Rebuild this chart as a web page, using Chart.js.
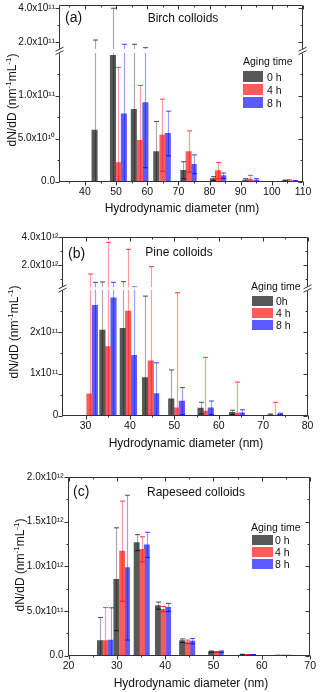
<!DOCTYPE html>
<html><head><meta charset="utf-8">
<script src="https://cdn.jsdelivr.net/npm/chart.js@4.4.1/dist/chart.umd.min.js"></script>
<style>
html,body{margin:0;padding:0;background:#fff;}
#wrap{position:relative;width:320px;height:692px;overflow:hidden;font-family:"Liberation Sans",Arial,sans-serif;color:#111;background:#fff;}
canvas{position:absolute;left:0;}
.t{position:absolute;white-space:nowrap;line-height:1;}
.c{transform:translate(-50%,-50%);}
.l{transform:translateY(-50%);}
.r{transform:translate(-50%,-50%) rotate(-90deg);}
.box{position:absolute;}
sup{font-size:8px;vertical-align:5px;line-height:0;}
</style></head><body>
<div id="wrap">
  <canvas id="aL" width="320" height="242" style="top:-20px;width:320px;height:242px"></canvas>
  <canvas id="aU" width="320" height="242" style="top:-20px;width:320px;height:242px"></canvas>
  <canvas id="bL" width="320" height="250" style="top:202px;width:320px;height:250px"></canvas>
  <canvas id="bU" width="320" height="250" style="top:202px;width:320px;height:250px"></canvas>
  <canvas id="cA" width="320" height="240" style="top:452px;width:320px;height:240px"></canvas>

  <div class="t l" style="left:65px;top:17px;font-size:14px">(a)</div>
  <div class="t c" style="left:183px;top:18px;font-size:12px">Birch colloids</div>
  <div class="t l" style="left:243px;top:61px;font-size:10.5px">Aging time</div>
  <div class="box" style="left:243px;top:71px;width:20px;height:10.5px;background:#585858"></div>
  <div class="box" style="left:243px;top:84px;width:20px;height:10.5px;background:#ff5b5b"></div>
  <div class="box" style="left:243px;top:97px;width:20px;height:10.5px;background:#5b5bff"></div>
  <div class="t l" style="left:267px;top:76.5px;font-size:10.5px">0 h</div>
  <div class="t l" style="left:267px;top:89.5px;font-size:10.5px">4 h</div>
  <div class="t l" style="left:267px;top:102.5px;font-size:10.5px">8 h</div>
  <div class="t c" style="left:182px;top:208px;font-size:12px">Hydrodynamic diameter (nm)</div>
  <div class="t r" style="left:12px;top:100px;font-size:12px">dN/dD (nm<sup>-1</sup>mL<sup>-1</sup>)</div>

  <div class="t l" style="left:68px;top:253px;font-size:14px">(b)</div>
  <div class="t c" style="left:179px;top:252px;font-size:12px">Pine colloids</div>
  <div class="t l" style="left:251px;top:286px;font-size:10.5px">Aging time</div>
  <div class="box" style="left:252px;top:296px;width:21px;height:9.5px;background:#585858"></div>
  <div class="box" style="left:252px;top:308px;width:21px;height:9.5px;background:#ff5b5b"></div>
  <div class="box" style="left:252px;top:320px;width:21px;height:9.5px;background:#5b5bff"></div>
  <div class="t l" style="left:276px;top:301px;font-size:10.5px">0h</div>
  <div class="t l" style="left:276px;top:313px;font-size:10.5px">4 h</div>
  <div class="t l" style="left:276px;top:325px;font-size:10.5px">8 h</div>
  <div class="t c" style="left:186px;top:443px;font-size:12px">Hydrodynamic diameter (nm)</div>
  <div class="t r" style="left:14px;top:332px;font-size:12px">dN/dD (nm<sup>-1</sup>mL<sup>-1</sup>)</div>

  <div class="t l" style="left:73px;top:491px;font-size:14px">(c)</div>
  <div class="t c" style="left:196px;top:492px;font-size:12px">Rapeseed colloids</div>
  <div class="t l" style="left:251px;top:527px;font-size:10.5px">Aging time</div>
  <div class="box" style="left:252px;top:535px;width:21px;height:10px;background:#585858"></div>
  <div class="box" style="left:252px;top:547px;width:21px;height:10px;background:#ff5b5b"></div>
  <div class="box" style="left:252px;top:559px;width:21px;height:10px;background:#5b5bff"></div>
  <div class="t l" style="left:275px;top:540px;font-size:10.5px">0 h</div>
  <div class="t l" style="left:275px;top:552px;font-size:10.5px">4 h</div>
  <div class="t l" style="left:275px;top:564px;font-size:10.5px">8 h</div>
  <div class="t c" style="left:191px;top:683px;font-size:12px">Hydrodynamic diameter (nm)</div>
  <div class="t r" style="left:20px;top:565px;font-size:12px">dN/dD (nm<sup>-1</sup>mL<sup>-1</sup>)</div>
</div>
<script>
// ---------- DATA ----------
// (a) Birch colloids: bar positions (nm), dN/dD values, error (+/-)
const aX0 = [43.1, 49.0, 55.7, 62.9, 71.6, 81.1, 91.5, 104.2];
const aY0 = [6.0e10, 1.47e11, 8.4e10, 3.5e10, 1.3e10, 3.3e9, 1.6e9, 1.0e9];
const aE0 = [1.53e11, 2.54e11, 1.04e11, 3.5e10, 1.0e10, 2.3e9, 1.7e9, 0.6e9];
const aX4 = [50.7, 57.6, 64.9, 73.3, 82.7, 92.9, 105.6];
const aY4 = [2.2e10, 4.8e10, 5.4e10, 3.5e10, 1.26e10, 2.9e9, 0.8e9];
const aE4 = [1.11e11, 6.4e10, 4.2e10, 2.4e10, 9.4e9, 4.3e9, 1.2e9];
const aX8 = [52.5, 59.4, 66.6, 74.9, 84.4, 95.0, 107.4];
const aY8 = [7.9e10, 9.2e10, 5.6e10, 2.0e10, 6.8e9, 1.7e9, 0.6e9];
const aE8 = [1.09e11, 7.6e10, 2.6e10, 1.1e10, 3.1e9, 1.6e9, 0.5e9];
// (b) Pine colloids
const bX0 = [33.8, 38.4, 43.4, 49.3, 55.9, 63.0, 71.6];
const bY0 = [2.04e11, 2.08e11, 9.1e10, 4.0e10, 1.8e10, 8e9, 2e9];
const bE0 = [5.76e11, 5.92e11, 1.94e11, 6.9e10, 1.4e10, 5e9, 2e9];
const bX4 = [30.9, 35.0, 39.6, 44.7, 50.5, 56.9, 64.1, 72.6];
const bY4 = [5.2e10, 1.65e11, 2.49e11, 1.31e11, 1.9e10, 1.1e10, 6e9, 1e9];
const bE4 = [1.30e12, 3.475e12, 2.88e12, 1.75e12, 2.74e11, 1.28e11, 7.4e10, 3.1e10];
const bX8 = [32.1, 36.3, 40.9, 45.9, 51.7, 58.2, 65.2, 73.8];
const bY8 = [2.63e11, 2.81e11, 1.44e11, 5.3e10, 3.5e10, 1.9e10, 7e9, 4e9];
const bE8 = [4.87e11, 4.69e11, 2.76e11, 7.3e10, 3.2e10, 1.6e10, 7e9, 2e9];
// (c) Rapeseed colloids
const cX0 = [26.5, 29.9, 34.1, 38.5, 43.5, 49.5, 56.0, 63.2];
const cY0 = [1.68e11, 8.55e11, 1.264e12, 5.6e11, 1.68e11, 4.5e10, 1.2e10, 4e9];
const cE0 = [2.6e11, 5.75e11, 9e10, 4e10, 2e10, 8e9, 4e9, 2e9];
const cX4 = [27.6, 31.1, 35.2, 39.6, 44.6, 50.5, 57.1, 64.4];
const cY4 = [1.68e11, 1.17e12, 1.19e12, 5.2e11, 1.55e11, 4e10, 1e10, 4e9];
const cE4 = [3.7e11, 5.6e11, 1.4e11, 3e10, 2e10, 6e9, 3e9, 2e9];
const cX8 = [28.7, 32.1, 36.2, 40.6, 45.6, 51.5, 58.2, 65.5];
const cY8 = [1.76e11, 9.85e11, 1.24e12, 5.4e11, 1.63e11, 4.5e10, 1e10, 3e9];
const cE8 = [3.6e11, 8.1e11, 1.4e11, 4.5e10, 3e10, 8e9, 3e9, 2e9];

// tick values and labels
const aUpTicks = [2e11, 4e11];           const aUpLabels = ['2.0x10\u00b9\u00b9', '4.0x10\u00b9\u00b9'];  const aUpMinor = [3e11];
const aLoTicks = [0, 5e10, 1e11];        const aLoLabels = ['0.0', '5.0x10\u00b9\u2070', '1.0x10\u00b9\u00b9']; const aLoMinor = [2.5e10, 7.5e10, 1.25e11];
const aXTicks = [40, 50, 60, 70, 80, 90, 100, 110]; const aXMinor = [35, 45, 55, 65, 75, 85, 95, 105];
const bUpTicks = [2e12, 4e12];           const bUpLabels = ['2.0x10\u00b9\u00b2', '4.0x10\u00b9\u00b2'];  const bUpMinor = [1e12, 3e12];
const bLoTicks = [0, 1e11, 2e11];        const bLoLabels = ['0', '1x10\u00b9\u00b9', '2x10\u00b9\u00b9'];  const bLoMinor = [5e10, 1.5e11, 2.5e11];
const bXTicks = [30, 40, 50, 60, 70, 80]; const bXMinor = [35, 45, 55, 65, 75];
const cYTicks = [0, 5e11, 1e12, 1.5e12, 2e12];
const cYLabels = ['0.0', '5.0x10\u00b9\u00b9', '1.0x10\u00b9\u00b2', '1.5x10\u00b9\u00b2', '2.0x10\u00b9\u00b2'];
const cYMinor = [2.5e11, 7.5e11, 1.25e12, 1.75e12];
const cXTicks = [20, 30, 40, 50, 60, 70]; const cXMinor = [25, 35, 45, 55, 65];

// ---------- STYLE ----------
const STY = [
  {bar: '#585858', err: 'rgba(0,0,0,0.33)',   cap: 'rgba(0,0,0,0.7)'},
  {bar: '#ff5b5b', err: 'rgba(255,0,0,0.38)', cap: 'rgba(230,0,0,0.75)'},
  {bar: '#5b5bff', err: 'rgba(0,0,255,0.38)', cap: 'rgba(0,0,230,0.75)'}
];
const FONT = "'Liberation Sans', Arial, sans-serif";
Chart.defaults.color = '#111';

const errorBarPlugin = {
  id: 'errbars',
  afterDatasetsDraw(chart) {
    const {ctx, chartArea: a} = chart; const ys = chart.scales.y;
    ctx.save();
    ctx.beginPath(); ctx.rect(a.left, a.top, a.right - a.left, a.bottom - a.top); ctx.clip();
    chart.data.datasets.forEach((ds, i) => {
      const meta = chart.getDatasetMeta(i);
      meta.data.forEach((el, j) => {
        const v = ds.data[j].y, e = ds.errors[j];
        const x = Math.round(el.x) + 0.5;
        const yt = ys.getPixelForValue(v + e);
        const lo = v - e;
        const yb = ys.getPixelForValue(Math.max(lo, 0));
        ctx.lineWidth = 1.2; ctx.strokeStyle = ds.errColor;
        ctx.beginPath(); ctx.moveTo(x, yt); ctx.lineTo(x, yb); ctx.stroke();
        ctx.lineWidth = 1; ctx.strokeStyle = ds.capColor;
        ctx.beginPath(); ctx.moveTo(x - 2.5, yt); ctx.lineTo(x + 2.5, yt);
        if (lo > 0) { ctx.moveTo(x - 2.5, yb); ctx.lineTo(x + 2.5, yb); }
        ctx.stroke();
      });
    });
    ctx.restore();
  }
};

const framePlugin = {
  id: 'frame',
  afterDraw(chart, args, o) {
    const {ctx, chartArea: a} = chart; const xs = chart.scales.x, ys = chart.scales.y;
    const P = v => Math.round(v) + 0.5;
    const L = P(a.left) - 1, R = P(a.right) - 1, T = P(a.top), B = P(a.bottom) - 1;
    ctx.save(); ctx.strokeStyle = '#333'; ctx.lineWidth = 1;
    ctx.beginPath();
    ctx.moveTo(L, T); ctx.lineTo(L, B + 0.5); ctx.moveTo(R, T); ctx.lineTo(R, B + 0.5);
    if (o.topLine) { ctx.moveTo(L, T); ctx.lineTo(R, T); }
    if (o.bottomLine) { ctx.moveTo(L, B); ctx.lineTo(R, B); }
    const yt = (vals, len) => vals.forEach(v => {
      const p = P(ys.getPixelForValue(v)); if (p < a.top - 1 || p > a.bottom + 1) return;
      ctx.moveTo(L - len, p); ctx.lineTo(L, p); ctx.moveTo(R, p); ctx.lineTo(R - len, p);
    });
    yt(o.yMajor, 4); yt(o.yMinor, 2);
    const xt = (vals, len) => vals.forEach(v => {
      const p = P(xs.getPixelForValue(v));
      if (o.bottomLine) { ctx.moveTo(p, B); ctx.lineTo(p, B + len); }
      if (o.topLine) { ctx.moveTo(p, T); ctx.lineTo(p, T + len); }
    });
    xt(o.xMajor, 4); xt(o.xMinor, 2);
    if (o.breakGap) {
      const cy = a.bottom + o.breakGap / 2;
      [L, R].forEach(x0 => { [-1.7, 1.7].forEach(d => { ctx.moveTo(x0 - 4, cy + d + 2); ctx.lineTo(x0 + 4, cy + d - 2); }); });
    }
    ctx.stroke(); ctx.restore();
  }
};

function makeDatasets(series, barW) {
  return series.map((s, k) => ({
    data: s[0].map((x, i) => ({x: x, y: s[1][i]})),
    errors: s[2],
    backgroundColor: STY[k].bar,
    errColor: STY[k].err, capColor: STY[k].cap,
    barThickness: barW, grouped: false, clip: 0, borderWidth: 0
  }));
}

function makeChart(id, o) {
  return new Chart(document.getElementById(id), {
    type: 'bar',
    data: {datasets: makeDatasets(o.series, o.barW)},
    options: {
      responsive: false, animation: false, devicePixelRatio: 1,
      events: [],
      layout: {padding: {left: 0, top: o.top, right: 320 - o.right, bottom: o.showX ? 0 : o.H - o.bottom}},
      plugins: {legend: {display: false}, tooltip: {enabled: false},
        frame: {topLine: o.topLine, bottomLine: o.showX, breakGap: o.breakGap,
                yMajor: o.yTicks, yMinor: o.yMinor, xMajor: o.xTicks, xMinor: o.xMinor}},
      scales: {
        x: {type: 'linear', min: o.xMin, max: o.xMax, offset: false, display: o.showX,
            grid: {display: false, drawTicks: false}, border: {display: false},
            ticks: {font: {family: FONT, size: 10.5}, padding: 4, autoSkip: false, maxRotation: 0, callback: v => String(v)},
            afterBuildTicks: s => { s.ticks = o.xTicks.map(v => ({value: v})); },
            afterFit: s => { s.height = o.showX ? o.H - o.bottom : 0; }},
        y: {type: 'linear', min: o.yMin, max: o.yMax,
            grid: {display: false, drawTicks: false}, border: {display: false},
            ticks: {font: {family: FONT, size: 10}, padding: 5, autoSkip: false, callback: (v, i) => o.yLabels[i]},
            afterBuildTicks: s => { s.ticks = o.yTicks.map(v => ({value: v})); },
            afterFit: s => { s.width = o.left; }}
      }
    },
    plugins: [errorBarPlugin, framePlugin]
  });
}

const aSeries = [[aX0, aY0, aE0], [aX4, aY4, aE4], [aX8, aY8, aE8]];
const bSeries = [[bX0, bY0, bE0], [bX4, bY4, bE4], [bX8, bY8, bE8]];
const cSeries = [[cX0, cY0, cE0], [cX4, cY4, cE4], [cX8, cY8, cE8]];

// Panel (a): canvas starts at page y = -20
makeChart('aU', {series: aSeries, barW: 5.4, H: 242, left: 60, right: 303, top: 25, bottom: 69,
  xMin: 32, xMax: 110, yMin: 1.6e11, yMax: 4.2e11, showX: false, topLine: true, breakGap: 3.8,
  yTicks: aUpTicks, yLabels: aUpLabels, yMinor: aUpMinor, xTicks: aXTicks, xMinor: aXMinor});
makeChart('aL', {series: aSeries, barW: 5.4, H: 242, left: 60, right: 303, top: 72.8, bottom: 201.5,
  xMin: 32, xMax: 110, yMin: 0, yMax: 1.5e11, showX: true, topLine: false,
  yTicks: aLoTicks, yLabels: aLoLabels, yMinor: aLoMinor, xTicks: aXTicks, xMinor: aXMinor});
// Panel (b): canvas starts at page y = 202
makeChart('bU', {series: bSeries, barW: 5.5, H: 250, left: 63.3, right: 307.6, top: 35.3, bottom: 85.2,
  xMin: 25, xMax: 80, yMin: 0.4e12, yMax: 4.0e12, showX: false, topLine: true, breakGap: 2.6,
  yTicks: bUpTicks, yLabels: bUpLabels, yMinor: bUpMinor, xTicks: bXTicks, xMinor: bXMinor});
makeChart('bL', {series: bSeries, barW: 5.5, H: 250, left: 63.3, right: 307.6, top: 87.8, bottom: 213.7,
  xMin: 25, xMax: 80, yMin: 0, yMax: 3e11, showX: true, topLine: false,
  yTicks: bLoTicks, yLabels: bLoLabels, yMinor: bLoMinor, xTicks: bXTicks, xMinor: bXMinor});
// Panel (c): canvas starts at page y = 452
makeChart('cA', {series: cSeries, barW: 5.2, H: 240, left: 68.5, right: 312.5, top: 24.9, bottom: 203.7,
  xMin: 20, xMax: 70, yMin: 0, yMax: 2e12, showX: true, topLine: true,
  yTicks: cYTicks, yLabels: cYLabels, yMinor: cYMinor, xTicks: cXTicks, xMinor: cXMinor});
</script>
</body></html>
